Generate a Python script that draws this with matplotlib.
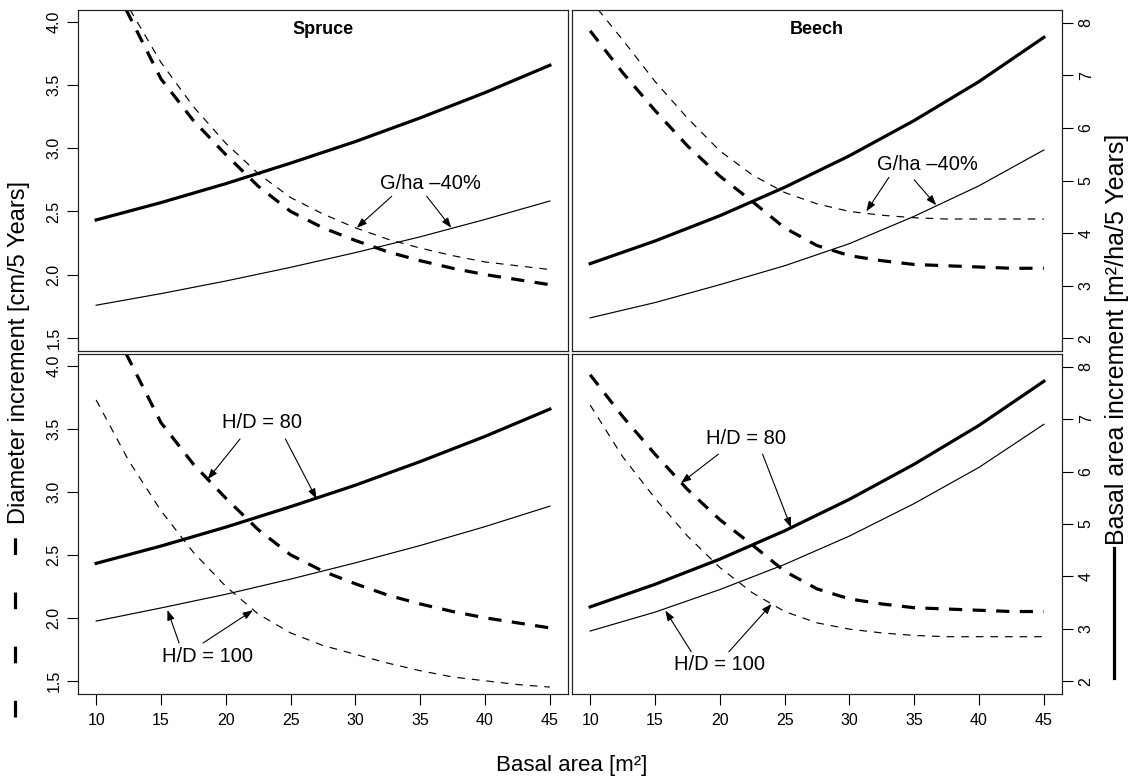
import matplotlib.pyplot as plt
from matplotlib.lines import Line2D

plt.rcParams['font.family'] = ['Liberation Sans', 'DejaVu Sans']
plt.rcParams['lines.scale_dashes'] = False

# basal area [m2] grids
ba = [10, 15, 20, 25, 30, 35, 40, 45]
ba_fine = [10, 12.5, 15, 17.5, 20, 22.5, 25, 27.5, 30, 32.5, 35, 37.5, 40, 42.5, 45]

# Spruce - basal area increment (solid, right axis)
spruce_bai_base = [4.25, 4.58, 4.94, 5.33, 5.74, 6.19, 6.67, 7.19]
spruce_bai_gha = [2.63, 2.85, 3.09, 3.35, 3.63, 3.93, 4.26, 4.61]
spruce_bai_hd100 = [3.15, 3.40, 3.66, 3.95, 4.26, 4.59, 4.95, 5.34]
# Spruce - diameter increment (dashed, left axis)
spruce_di_base_x = [12.3, 15, 17.5, 20, 22.5, 25, 27.5, 30, 32.5, 35, 37.5, 40, 42.5, 45]
spruce_di_base = [4.10, 3.55, 3.22, 2.95, 2.70, 2.50, 2.37, 2.27, 2.18, 2.11, 2.05, 2.00, 1.96, 1.92]
spruce_di_gha_x = [12.6, 15, 17.5, 20, 22.5, 25, 27.5, 30, 32.5, 35, 37.5, 40, 42.5, 45]
spruce_di_gha = [4.10, 3.68, 3.33, 3.04, 2.80, 2.61, 2.48, 2.37, 2.28, 2.21, 2.15, 2.10, 2.07, 2.04]
spruce_di_hd100 = [3.73, 3.25, 2.85, 2.52, 2.25, 2.03, 1.88, 1.78, 1.71, 1.64, 1.58, 1.53, 1.50, 1.47, 1.45]

# Beech - basal area increment (solid, right axis)
beech_bai_base = [3.42, 3.85, 4.33, 4.87, 5.47, 6.14, 6.88, 7.72]
beech_bai_gha = [2.39, 2.68, 3.02, 3.38, 3.80, 4.32, 4.90, 5.58]
beech_bai_hd100 = [2.96, 3.32, 3.75, 4.23, 4.77, 5.39, 6.08, 6.90]
# Beech - diameter increment (dashed, left axis)
beech_di_base = [3.93, 3.60, 3.30, 3.02, 2.78, 2.58, 2.37, 2.23, 2.15, 2.11, 2.08, 2.07, 2.06, 2.05, 2.05]
beech_di_gha_x = [10.6, 12.5, 15, 17.5, 20, 22.5, 25, 27.5, 30, 32.5, 35, 37.5, 40, 42.5, 45]
beech_di_gha = [4.10, 3.86, 3.53, 3.24, 2.98, 2.79, 2.65, 2.56, 2.50, 2.47, 2.45, 2.44, 2.44, 2.44, 2.44]
beech_di_hd100 = [3.69, 3.28, 2.95, 2.65, 2.40, 2.20, 2.05, 1.96, 1.91, 1.88, 1.86, 1.85, 1.85, 1.85, 1.85]

dia_ticks = [1.5, 2.0, 2.5, 3.0, 3.5, 4.0]
bai_ticks = [2, 3, 4, 5, 6, 7, 8]
x_ticks = [10, 15, 20, 25, 30, 35, 40, 45]

W, H = 1133, 777
fig = plt.figure(figsize=(W / 100, H / 100), dpi=100)


def rect(x0, y0, x1, y1):
    return [x0 / W, 1 - y1 / H, (x1 - x0) / W, (y1 - y0) / H]


THICK, THIN = 2.3, 0.85
DASH_THICK, DASH_THIN = (9.5, 7.5), (5.5, 5)
arrow = dict(arrowstyle='-|>,head_length=0.6,head_width=0.22', color='black',
             lw=0.8, shrinkA=0, shrinkB=0, mutation_scale=10)


def panel(r, left, bottom, title=None):
    ax = fig.add_axes(r)
    tw = ax.twinx()
    ax.set_xlim(8.6, 46.4)
    ax.set_ylim(1.395, 4.095)
    tw.set_ylim(1.76, 8.24)
    ax.set_xticks(x_ticks)
    ax.set_yticks(dia_ticks)
    tw.set_yticks(bai_ticks)
    ax.yaxis.set_major_formatter('{x:.1f}')
    for a in (ax, tw):
        a.tick_params(direction='out', length=8, width=0.8, labelsize=11.5, pad=4)
        a.tick_params(axis='y', labelrotation=90)
        for s in a.spines.values():
            s.set_linewidth(0.8)
            s.set_color('#222222')
    ax.tick_params(axis='x', pad=6)
    if not bottom:
        ax.tick_params(axis='x', bottom=False, labelbottom=False)
    if left:
        tw.tick_params(axis='y', right=False, labelright=False)
    else:
        ax.tick_params(axis='y', left=False, labelleft=False)
    for lab in ax.get_yticklabels() + tw.get_yticklabels():
        lab.set_va('center')
    if title:
        ax.text(0.5, 0.942, title, transform=ax.transAxes, ha='center', va='center',
                fontsize=13, fontweight='bold')
    return ax, tw


def notes(ax, tw, label, pos, arrows):
    ax.text(pos[0], pos[1], label, ha='center', va='center', fontsize=14.5)
    for start, tip, axis in arrows:
        tr = tw.transData if axis == 'bai' else ax.transData
        tw.annotate('', xy=tip, xycoords=tr, xytext=start, textcoords=ax.transData,
                    arrowprops=arrow)


# top left: Spruce, G/ha -40%
ax, tw = panel(rect(78, 10, 568, 351), True, False, 'Spruce')
ax.plot(spruce_di_base_x, spruce_di_base, color='black', lw=THICK, dashes=DASH_THICK)
ax.plot(spruce_di_gha_x, spruce_di_gha, color='black', lw=THIN, dashes=DASH_THIN)
tw.plot(ba, spruce_bai_base, color='black', lw=THICK)
tw.plot(ba, spruce_bai_gha, color='black', lw=THIN)
notes(ax, tw, 'G/ha \u201340%', (35.8, 2.72),
      [((32.8, 2.62), (30.1, 2.37), 'dia'), ((35.5, 2.62), (37.4, 4.10), 'bai')])

# top right: Beech, G/ha -40%
ax, tw = panel(rect(572, 10, 1062, 351), False, False, 'Beech')
ax.plot(ba_fine, beech_di_base, color='black', lw=THICK, dashes=DASH_THICK)
ax.plot(beech_di_gha_x, beech_di_gha, color='black', lw=THIN, dashes=DASH_THIN)
tw.plot(ba, beech_bai_base, color='black', lw=THICK)
tw.plot(ba, beech_bai_gha, color='black', lw=THIN)
notes(ax, tw, 'G/ha \u201340%', (36.0, 2.87),
      [((33.05, 2.77), (31.3, 2.50), 'dia'), ((35.0, 2.75), (36.7, 4.53), 'bai')])

# bottom left: Spruce, H/D
ax, tw = panel(rect(78, 354, 568, 694), True, True)
ax.plot(spruce_di_base_x, spruce_di_base, color='black', lw=THICK, dashes=DASH_THICK)
ax.plot(ba_fine, spruce_di_hd100, color='black', lw=THIN, dashes=DASH_THIN)
tw.plot(ba, spruce_bai_base, color='black', lw=THICK)
tw.plot(ba, spruce_bai_hd100, color='black', lw=THIN)
notes(ax, tw, 'H/D = 80', (22.8, 3.55),
      [((21.1, 3.42), (18.6, 3.10), 'dia'), ((24.6, 3.42), (27.0, 5.48), 'bai')])
notes(ax, tw, 'H/D = 100', (18.6, 1.69),
      [((16.4, 1.80), (15.5, 3.36), 'bai'), ((18.25, 1.80), (22.1, 2.06), 'dia')])

# bottom right: Beech, H/D
ax, tw = panel(rect(572, 354, 1062, 694), False, True)
ax.plot(ba_fine, beech_di_base, color='black', lw=THICK, dashes=DASH_THICK)
ax.plot(ba_fine, beech_di_hd100, color='black', lw=THIN, dashes=DASH_THIN)
tw.plot(ba, beech_bai_base, color='black', lw=THICK)
tw.plot(ba, beech_bai_hd100, color='black', lw=THIN)
notes(ax, tw, 'H/D = 80', (22.0, 3.42),
      [((19.9, 3.30), (17.0, 3.07), 'dia'), ((23.3, 3.30), (25.5, 4.93), 'bai')])
notes(ax, tw, 'H/D = 100', (20.0, 1.63),
      [((17.8, 1.73), (15.8, 3.35), 'bai'), ((20.7, 1.73), (24.0, 2.11), 'dia')])

# outer labels
fig.text(572 / W, 1 - 765 / H, 'Basal area [m\u00b2]', ha='center', va='center', fontsize=16)
fig.text(19 / W, 1 - 524 / H, 'Diameter increment [cm/5 Years]', rotation=90,
         ha='center', va='bottom', fontsize=17)
fig.add_artist(Line2D([15 / W, 15 / W], [1 - 717 / H, 1 - 535 / H], transform=fig.transFigure,
                      color='black', lw=2.3, dashes=(12, 27)))
fig.text(1117 / W, 1 - 545 / H, 'Basal area increment [m\u00b2/ha/5 Years]', rotation=90,
         ha='center', va='bottom', fontsize=18)
fig.add_artist(Line2D([1114 / W, 1114 / W], [1 - 678 / H, 1 - 548 / H], transform=fig.transFigure,
                      color='black', lw=2.3))

fig.savefig('out.png', dpi=100)
